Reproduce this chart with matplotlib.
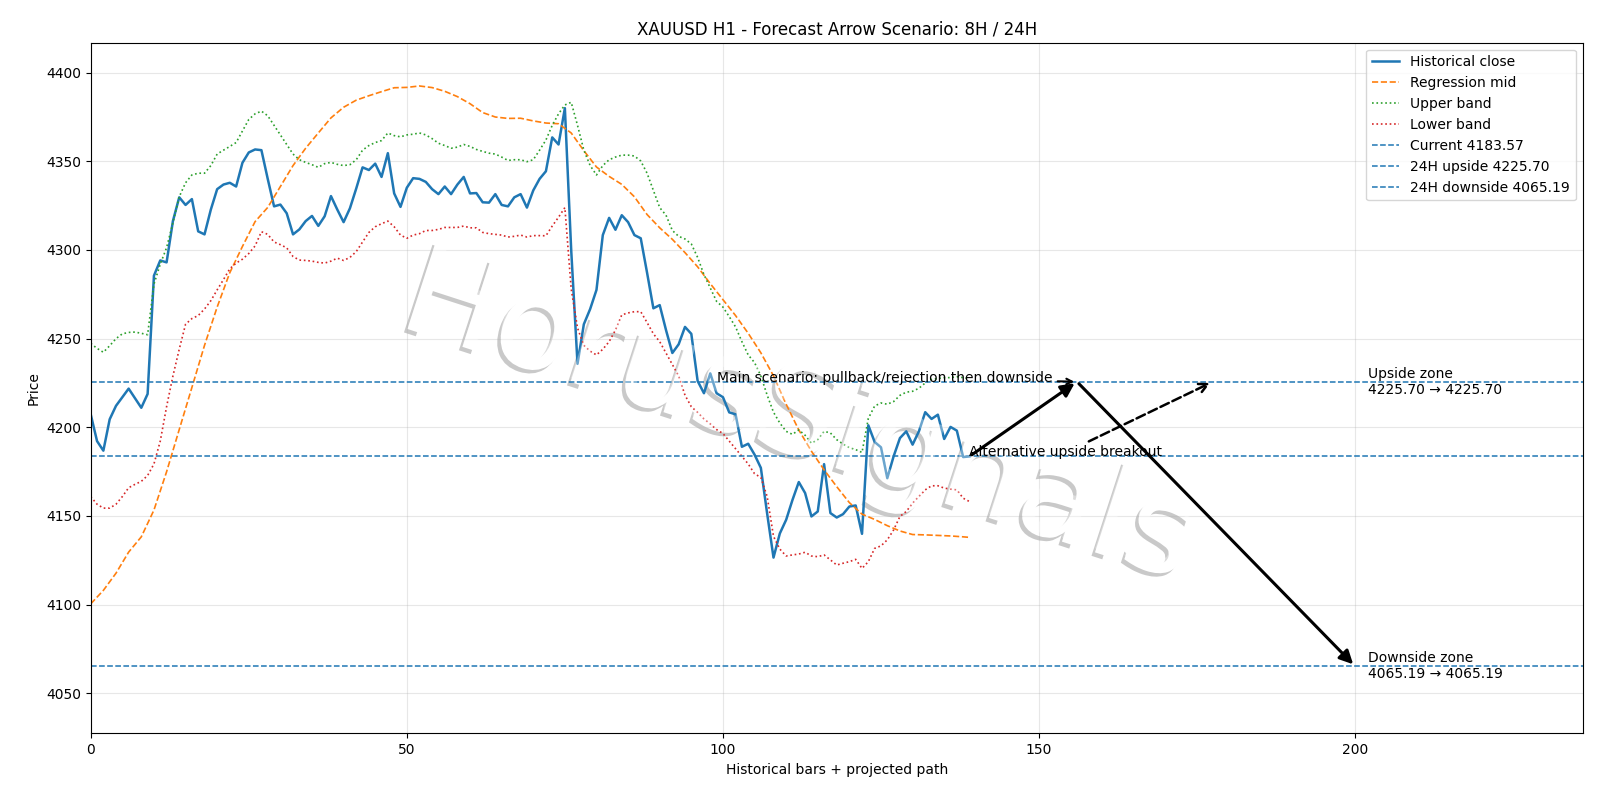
import matplotlib
matplotlib.use("Agg")
import matplotlib.pyplot as plt
import matplotlib.patheffects as pe
import numpy as np

# ---------------- data ----------------
close = [4207.3, 4192.2, 4186.8, 4204.5, 4212.1, 4217.0, 4221.8, 4216.4, 4211.0, 4218.8,
         4285.5, 4294.1, 4293.0, 4316.3, 4329.7, 4325.4, 4328.7, 4310.5, 4308.8, 4322.8,
         4334.3, 4336.9, 4337.9, 4335.8, 4349.2, 4355.0, 4356.7, 4356.3, 4340.1, 4324.6,
         4325.6, 4320.7, 4308.8, 4311.6, 4316.3, 4319.2, 4313.6, 4319.0, 4330.4, 4322.8,
         4315.7, 4323.5, 4334.7, 4346.6, 4345.1, 4348.7, 4341.2, 4354.6, 4331.9, 4324.3,
         4335.1, 4340.5, 4340.1, 4338.4, 4334.3, 4331.5, 4335.8, 4331.5, 4336.9, 4341.2,
         4331.9, 4332.1, 4326.9, 4326.7, 4331.5, 4325.4, 4324.6, 4329.7, 4331.5, 4323.9,
         4333.6, 4340.1, 4344.4, 4363.5, 4359.5, 4380.0, 4300.0, 4235.8, 4258.1, 4266.7,
         4277.5, 4308.4, 4318.1, 4311.4, 4319.6, 4315.7, 4308.4, 4306.6, 4287.2, 4267.1,
         4268.9, 4254.8, 4241.9, 4246.8, 4256.6, 4252.7, 4226.1, 4219.2, 4230.4, 4219.2,
         4217.0, 4208.4, 4207.3, 4189.0, 4190.7, 4184.6, 4177.1, 4151.2, 4126.5, 4140.1,
         4147.8, 4159.0, 4169.1, 4162.9, 4149.7, 4152.5, 4179.2, 4151.6, 4149.1, 4151.0,
         4155.3, 4155.9, 4139.9, 4201.1, 4191.7, 4188.7, 4171.3, 4183.6, 4193.9, 4197.7,
         4190.2, 4197.7, 4208.5, 4204.7, 4207.1, 4193.4, 4200.2, 4198.1, 4183.2, 4183.57]

upper = [4247.3, 4244.5, 4242.3, 4246.0, 4250.0, 4252.7, 4253.5, 4253.7, 4253.0, 4252.2,
         4280.7, 4292.0, 4301.3, 4315.3, 4330.0, 4337.9, 4342.3, 4343.3, 4343.3, 4347.6,
         4354.1, 4356.3, 4358.4, 4360.6, 4367.1, 4373.6, 4376.8, 4378.3, 4375.7, 4370.3,
         4364.9, 4359.5, 4354.1, 4350.9, 4349.4, 4348.1, 4346.6, 4348.7, 4349.4, 4348.3,
         4347.6, 4348.1, 4350.9, 4356.3, 4358.9, 4360.6, 4361.7, 4366.0, 4364.5, 4363.8,
         4364.9, 4365.3, 4366.0, 4364.9, 4362.8, 4360.2, 4358.9, 4357.4, 4358.0, 4359.5,
         4358.4, 4356.7, 4355.6, 4354.6, 4354.1, 4352.4, 4350.5, 4350.9, 4350.9, 4349.8,
         4350.9, 4356.3, 4362.0, 4370.3, 4376.8, 4381.8, 4383.3, 4370.3, 4356.3, 4347.6,
         4342.3, 4347.6, 4350.9, 4352.4, 4353.5, 4353.5, 4353.0, 4350.2, 4343.3, 4333.6,
         4323.9, 4319.6, 4311.0, 4307.7, 4306.2, 4303.4, 4295.8, 4286.1, 4278.6, 4271.0,
         4267.8, 4262.4, 4256.6, 4248.3, 4240.8, 4236.5, 4228.9, 4218.1, 4208.5, 4202.4,
         4197.7, 4196.0, 4198.5, 4195.5, 4191.0, 4193.0, 4197.7, 4196.8, 4193.0, 4190.5,
         4188.5, 4187.4, 4185.8, 4205.0, 4212.0, 4213.7, 4213.0, 4214.5, 4218.0, 4219.8,
         4220.3, 4222.0, 4225.0, 4227.0, 4227.5, 4228.0, 4228.0, 4228.5, 4228.0, 4227.5]

lower = [4160.9, 4156.6, 4154.4, 4154.4, 4156.6, 4160.9, 4165.9, 4167.8, 4169.5, 4172.8,
         4179.3, 4192.2, 4211.6, 4228.9, 4244.0, 4258.1, 4261.3, 4263.0, 4266.7, 4271.4,
         4277.5, 4283.3, 4289.4, 4292.6, 4294.8, 4298.0, 4302.3, 4310.3, 4308.8, 4304.5,
         4303.0, 4301.2, 4296.3, 4294.3, 4294.1, 4293.7, 4293.0, 4292.6, 4293.7, 4295.4,
         4294.1, 4295.8, 4299.1, 4304.5, 4309.9, 4313.1, 4314.8, 4316.3, 4313.1, 4308.4,
         4306.6, 4308.4, 4309.2, 4311.0, 4311.0, 4311.6, 4312.7, 4312.7, 4312.7, 4313.5,
         4312.5, 4312.5, 4309.9, 4309.2, 4308.8, 4308.4, 4307.3, 4307.7, 4308.4, 4307.3,
         4308.1, 4308.1, 4308.0, 4313.5, 4318.5, 4323.9, 4278.0, 4256.0, 4246.2, 4242.9,
         4240.8, 4244.0, 4248.3, 4254.8, 4263.4, 4264.5, 4265.2, 4265.2, 4259.1, 4252.7,
         4248.3, 4241.9, 4235.4, 4228.9, 4218.1, 4211.6, 4208.4, 4204.7, 4201.9, 4198.7,
         4196.5, 4192.2, 4187.9, 4183.6, 4179.3, 4173.8, 4171.7, 4160.9, 4138.5, 4131.3,
         4127.4, 4128.0, 4128.5, 4129.5, 4127.4, 4127.0, 4128.0, 4125.2, 4122.3, 4123.3,
         4124.2, 4125.5, 4120.4, 4124.2, 4131.7, 4133.1, 4136.5, 4142.1, 4149.7, 4152.5,
         4157.2, 4161.0, 4164.7, 4167.0, 4167.0, 4165.7, 4165.1, 4164.7, 4160.0, 4158.1]

mid_bars = list(range(0, 140, 2)) + [139]
mid = [4100.4, 4108.0, 4117.7, 4129.6, 4138.2, 4153.3, 4174.9, 4198.7, 4222.4, 4246.2,
       4267.8, 4287.2, 4302.0, 4316.0, 4324.0, 4335.8, 4347.6, 4357.4, 4366.0, 4374.5,
       4380.5, 4384.5, 4387.0, 4389.3, 4391.5, 4391.7, 4392.5, 4391.6, 4389.5, 4386.5,
       4382.5, 4377.5, 4375.0, 4374.2, 4374.3, 4372.8,
       4371.6, 4371.2, 4366.0, 4356.0, 4346.8, 4341.5, 4337.0, 4330.0, 4320.0, 4312.5,
       4306.0, 4298.5, 4290.5, 4281.0, 4272.0, 4263.0, 4253.0, 4242.0, 4229.0, 4213.0,
       4198.5, 4186.5, 4176.0, 4166.5, 4157.5, 4151.0, 4148.0, 4144.5, 4141.5, 4139.5,
       4139.3, 4139.0, 4138.7, 4138.2, 4137.9]

current = 4183.57
upside = 4225.70
downside = 4065.19
bar_now = 139
bar_turn = 156
bar_target = 200
bar_alt = 177.5
watermark = "HorusSignals"

# ---------------- figure ----------------
fig, ax = plt.subplots(figsize=(16, 8), dpi=100)
fig.subplots_adjust(left=0.0567, right=0.9892, top=0.9466, bottom=0.0834)

bars = np.arange(len(close))
ax.plot(bars, close, color="#1f77b4", lw=1.8, label="Historical close")
ax.plot(mid_bars, mid, ls="--", color="#ff7f0e", lw=1.2, label="Regression mid")
ax.plot(bars, upper, ls=":", color="#2ca02c", lw=1.2, label="Upper band")
ax.plot(bars, lower, ls=":", color="#d62728", lw=1.2, label="Lower band")

ax.axhline(current, ls="--", lw=1.1, color="#1f77b4", label=f"Current {current:.2f}")
ax.axhline(upside, ls="--", lw=1.1, color="#1f77b4", label=f"24H upside {upside:.2f}")
ax.axhline(downside, ls="--", lw=1.1, color="#1f77b4", label=f"24H downside {downside:.2f}")

solid = dict(arrowstyle="-|>", lw=2.2, color="black", mutation_scale=20)
ax.annotate("", xy=(bar_turn, upside), xytext=(bar_now, current), arrowprops=solid)
ax.annotate("", xy=(bar_target, downside), xytext=(bar_turn, upside), arrowprops=solid)
ax.annotate("Main scenario: pullback/rejection then downside",
            xy=(bar_turn, upside), xytext=(bar_now - 40, upside),
            fontsize=10, ha="left",
            arrowprops=dict(arrowstyle="->", lw=1.5, color="black"))
ax.annotate("Alternative upside breakout",
            xy=(bar_alt, upside), xytext=(bar_now, current),
            fontsize=10, ha="left",
            arrowprops=dict(arrowstyle="->", lw=1.8, ls="--", color="black",
                            mutation_scale=16))

ax.text(bar_target + 2, upside, f"Upside zone\n{upside:.2f} → {upside:.2f}",
        va="center", ha="left", fontsize=10)
ax.text(bar_target + 2, downside, f"Downside zone\n{downside:.2f} → {downside:.2f}",
        va="center", ha="left", fontsize=10)

ax.set_xlim(0, 236)
ax.set_ylim(4027.4, 4416.9)
ax.grid(True, alpha=0.3)
ax.set_title("XAUUSD H1 - Forecast Arrow Scenario: 8H / 24H", fontsize=12)
ax.set_xlabel("Historical bars + projected path")
ax.set_ylabel("Price")
ax.legend(loc="upper right", fontsize=10)

# watermark: white letters with a soft grey offset shadow, lines seen faintly through
wm = dict(fontsize=91, rotation=-18, ha="center", va="center",
          transform=fig.transFigure)
ax.text(0.499, 0.476, watermark, color="white", zorder=1.0,
        path_effects=[pe.SimplePatchShadow(offset=(-2.5, -2.5), shadow_rgbFace="gray", alpha=0.42),
                      pe.Normal()], **wm)
ax.text(0.499, 0.476, watermark, color="white", alpha=0.35, zorder=2.5, **wm)

fig.savefig("out.png", dpi=100)
